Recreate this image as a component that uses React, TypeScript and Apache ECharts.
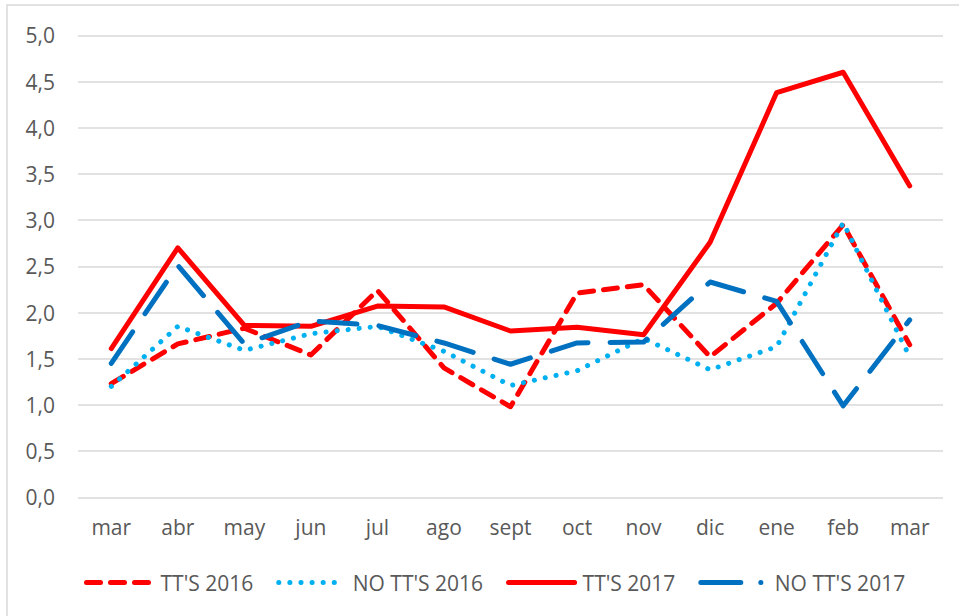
import React, { useEffect, useRef } from "react";
import * as echarts from "echarts";

const categories = ["mar", "abr", "may", "jun", "jul", "ago", "sept", "oct", "nov", "dic", "ene", "feb", "mar"];
const tts2016 = [1.23, 1.66, 1.83, 1.54, 2.24, 1.4, 0.98, 2.21, 2.3, 1.52, 2.1, 2.95, 1.65];
const noTts2016 = [1.2, 1.85, 1.59, 1.77, 1.85, 1.58, 1.21, 1.37, 1.72, 1.38, 1.63, 2.97, 1.52];
const tts2017 = [1.61, 2.7, 1.86, 1.85, 2.07, 2.06, 1.8, 1.84, 1.76, 2.76, 4.38, 4.6, 3.37];
const noTts2017 = [1.45, 2.51, 1.66, 1.91, 1.86, 1.67, 1.44, 1.67, 1.68, 2.33, 2.12, 0.99, 1.92];
const seriesNames = ["TT'S 2016", "NO TT'S 2016", "TT'S 2017", "NO TT'S 2017"];

const FONT = "'Open Sans', 'Noto Sans', sans-serif";
const TXT = "#595959";

export default function App() {
  const ref = useRef<HTMLDivElement>(null);
  useEffect(() => {
    document.body.style.margin = "0";
    const chart = echarts.init(ref.current!, null, { renderer: "svg" });
    const mk = (name: string, data: number[], color: string, type: any, width = 5) => ({
      name,
      type: "line",
      data,
      symbol: "none",
      showSymbol: false,
      lineStyle: { color, width, type, cap: "round", join: "round" },
      itemStyle: { color },
    });
    chart.setOption({
      animation: false,
      backgroundColor: "#ffffff",
      graphic: [
        {
          type: "rect",
          shape: { x: 7, y: 5, width: 1000, height: 700 },
          style: { fill: "none", stroke: "#d9d9d9", lineWidth: 1.5 },
          silent: true,
        },
      ],
      grid: { left: 78, right: 16, top: 35.3, bottom: 118.7, containLabel: false },
      xAxis: {
        type: "category",
        data: categories,
        boundaryGap: true,
        axisLine: { show: false },
        axisTick: { show: false },
        axisLabel: { color: TXT, fontSize: 21, fontFamily: FONT, margin: 19 },
      },
      yAxis: {
        type: "value",
        min: 0,
        max: 5,
        interval: 0.5,
        axisLine: { show: false },
        axisTick: { show: false },
        splitLine: { lineStyle: { color: "#d9d9d9", width: 1.5 } },
        axisLabel: {
          color: TXT,
          fontSize: 21,
          fontFamily: FONT,
          margin: 23,
          formatter: (v: number) => v.toFixed(1).replace(".", ","),
        },
      },
      legend: {
        left: 79,
        top: 567,
        icon: "inherit",
        itemWidth: 66,
        itemHeight: 20,
        itemGap: 23,
        itemStyle: { opacity: 0 },
        lineStyle: { width: 5, cap: "round" },
        textStyle: { color: TXT, fontSize: 21, fontFamily: FONT, padding: [0, 0, 0, 3] },
        data: [
          { name: seriesNames[0] },
          { name: seriesNames[1] },
          { name: seriesNames[2] },
          { name: seriesNames[3], lineStyle: { width: 5, cap: "round", type: [40, 20, 0.1, 30] } },
        ],
      },
      series: [
        mk(seriesNames[0], tts2016, "#ff0000", [14, 10]),
        mk(seriesNames[1], noTts2016, "#00b0f0", [0.1, 11], 5),
        mk(seriesNames[2], tts2017, "#ff0000", "solid"),
        mk(seriesNames[3], noTts2017, "#0070c0", [38, 22]),
      ],
    });
    return () => chart.dispose();
  }, []);
  return <div ref={ref} style={{ width: 959, height: 616 }} />;
}
